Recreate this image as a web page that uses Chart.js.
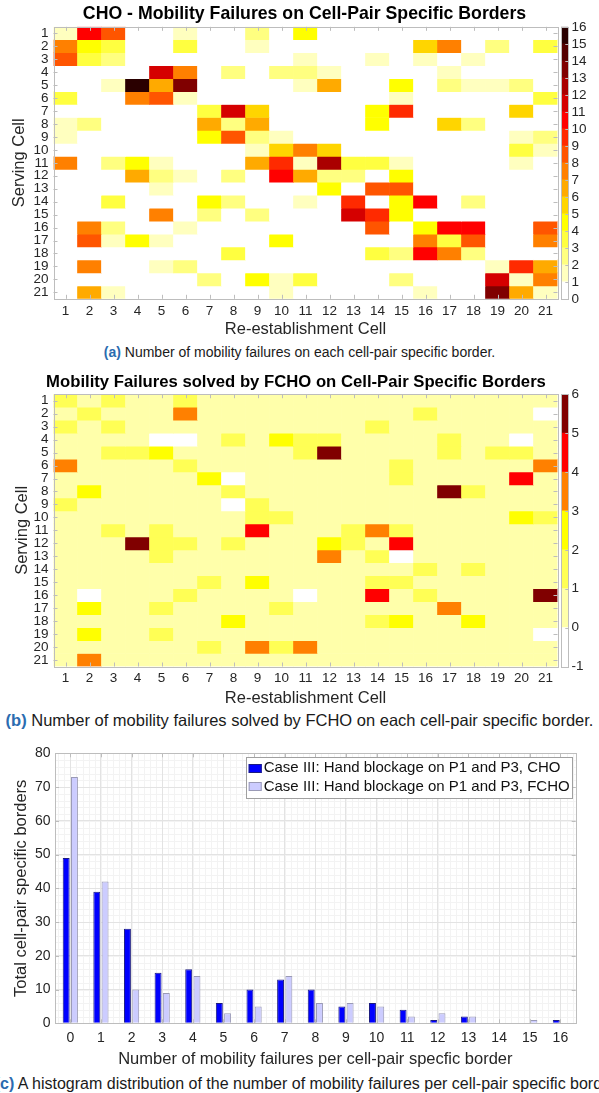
<!DOCTYPE html>
<html lang="en">
<head>
<meta charset="utf-8">
<title>Mobility failures on cell-pair specific borders</title>
<script src="https://cdn.jsdelivr.net/npm/chart.js"></script>
<style>
  html, body { margin: 0; padding: 0; background: #fff; }
  body { position: relative; width: 599px; height: 1093px; overflow: hidden;
         font-family: "Liberation Sans", Arial, sans-serif; }
  .panel { position: absolute; }
  .caption { position: absolute; white-space: nowrap; font-size: 14px; line-height: 16px; color: #1a1a1a; }
  .caption b { color: #2b6cb0; }
  .centered { left: 0; width: 599px; text-align: center; }
</style>
</head>
<body>

<div class="panel" style="left:10px; top:0; width:589px; height:340px;"><canvas id="choMap"></canvas></div>
<div class="panel" style="left:556px; top:0; width:43px; height:340px;"><canvas id="choScale"></canvas></div>
<div class="caption centered" style="top:344px;"><b>(a)</b> Number of mobility failures on each cell-pair specific border.</div>

<div class="panel" style="left:-7px; top:360px; width:606px; height:350px;"><canvas id="fchoMap"></canvas></div>
<div class="panel" style="left:556px; top:360px; width:43px; height:350px;"><canvas id="fchoScale"></canvas></div>
<div class="caption centered" style="top:711px; font-size:16.5px; line-height:18px;"><b>(b)</b> Number of mobility failures solved by FCHO on each cell-pair specific border.</div>

<div class="panel" style="left:0; top:735px; width:599px; height:335px;"><canvas id="histChart"></canvas></div>
<div class="caption" style="left:-5.3px; top:1075px; font-size:16px; line-height:18px;"><b>(c)</b> A histogram distribution of the number of mobility failures per cell-pair specific border.</div>

<script>
Chart.defaults.font.family = '"Liberation Sans", Arial, sans-serif';
Chart.defaults.color = '#262626';
Chart.defaults.animation = false;

// cells 1..21 (columns = re-establishment cell, rows = serving cell)
const cellLabels = ['1','2','3','4','5','6','7','8','9','10','11','12','13','14','15','16','17','18','19','20','21'];
const cellNumbers = [1,2,3,4,5,6,7,8,9,10,11,12,13,14,15,16,17,18,19,20,21];

// CHO failures per border
const choFailures = [
  [1,10,8,0,0,1,0,0,2,0,4,0,0,0,0,0,0,0,0,0,0],
  [7,4,3,0,0,3,0,0,1,0,0,0,0,0,0,5,7,0,2,0,3],
  [8,3,2,0,0,0,0,0,0,0,1,0,0,1,0,1,0,1,0,0,0],
  [0,0,0,0,11,7,0,2,0,2,2,1,0,0,0,0,1,0,0,0,0],
  [0,0,1,16,6,13,0,0,0,0,1,6,0,0,4,0,2,1,1,2,0],
  [3,0,0,7,8,1,0,0,0,0,0,0,0,0,1,0,0,0,0,0,3],
  [0,0,0,0,0,0,3,11,5,0,0,0,0,4,9,0,0,0,0,5,0],
  [1,2,0,0,0,0,6,2,6,0,0,0,0,4,0,0,5,2,0,0,0],
  [1,0,0,0,0,0,4,8,2,1,0,0,0,0,0,0,0,0,0,1,2],
  [0,0,0,0,0,0,0,0,1,5,7,5,0,0,0,0,0,0,0,3,1],
  [7,0,2,4,1,0,0,0,6,9,1,12,3,3,1,0,0,0,0,1,0],
  [0,0,0,6,2,1,0,2,0,10,6,2,2,0,4,0,0,0,0,0,0],
  [0,0,0,0,1,0,0,0,0,0,0,4,0,8,8,0,0,0,0,0,0],
  [0,0,3,0,0,0,4,2,0,0,1,0,9,0,4,10,0,2,0,0,0],
  [0,0,0,0,7,0,2,0,2,0,0,0,11,9,4,0,0,0,0,0,0],
  [0,7,2,0,0,1,0,0,0,0,0,0,0,8,0,4,10,10,0,0,8],
  [0,8,1,4,1,0,0,0,0,4,0,0,0,0,0,7,3,8,0,0,7],
  [0,0,0,0,0,0,0,3,0,0,0,0,0,3,2,10,7,2,0,0,0],
  [0,7,0,0,1,2,0,0,0,0,0,0,0,0,0,0,0,0,1,9,6],
  [0,0,0,0,0,0,2,0,4,1,3,0,0,0,2,0,0,0,11,1,7],
  [0,6,1,0,0,0,0,0,0,1,0,0,0,0,0,1,0,0,13,6,1]
];

// failures solved by FCHO (CHO minus FCHO) per border
const fchoSolved = [
  [1,0,1,0,0,1,0,0,0,0,0,0,0,0,0,0,0,0,0,0,0],
  [0,1,0,0,0,3,0,0,0,0,0,0,0,0,0,1,0,0,0,0,-1],
  [1,0,1,0,0,0,0,0,0,0,0,0,0,1,0,0,0,0,0,0,0],
  [0,0,0,0,-1,-1,0,1,0,2,1,1,0,0,0,0,1,0,0,-1,0],
  [0,0,1,1,2,0,0,0,0,0,1,5,0,0,0,0,1,0,1,1,0],
  [3,0,0,0,0,1,0,0,0,0,0,0,0,0,1,0,0,0,0,0,3],
  [0,0,0,0,0,0,2,-1,0,0,0,0,0,0,1,0,0,0,0,4,0],
  [0,2,0,0,0,0,0,1,0,0,0,0,0,0,0,0,5,1,0,0,0],
  [1,0,0,0,0,0,0,-1,1,0,0,0,0,0,0,0,0,0,0,0,0],
  [0,0,0,0,0,0,0,0,1,1,0,0,0,0,0,0,0,0,0,2,1],
  [0,0,1,0,1,0,0,0,4,0,0,0,1,3,1,0,0,0,0,0,0],
  [0,0,0,5,1,1,0,1,0,0,0,2,1,0,4,0,0,0,0,0,0],
  [0,0,0,0,1,0,0,0,0,0,0,3,0,1,-1,0,0,0,0,0,0],
  [0,0,0,0,0,0,0,0,0,0,0,0,0,0,0,1,0,1,0,0,0],
  [0,0,0,0,0,0,1,0,2,0,0,0,0,1,1,0,0,0,0,0,0],
  [0,-1,0,0,0,1,0,0,0,0,-1,0,0,4,0,1,0,0,0,0,5],
  [0,2,0,0,1,0,0,0,0,1,0,0,0,0,0,0,3,0,0,0,0],
  [0,0,0,0,0,0,0,2,0,0,0,0,0,1,2,0,0,2,0,0,0],
  [0,2,0,0,1,0,0,0,0,0,0,0,0,0,0,0,0,0,0,0,-1],
  [0,0,0,0,0,0,1,0,3,1,3,0,0,0,0,0,0,0,0,0,0],
  [0,3,0,0,0,0,0,0,0,0,0,0,0,0,0,0,0,0,0,0,0]
];

// histogram of failures per border
const failureCounts = ['0','1','2','3','4','5','6','7','8','9','10','11','12','13','14','15','16'];
const choBorders = [49,39,28,15,16,6,10,13,10,5,6,4,1,2,0,0,1];
const fchoBorders = [73,42,10,9,14,3,5,14,6,6,5,2,3,2,0,1,0];

// flipped "hot" colormaps, one colour per unit step
const choLevelColors = ['#ffffff','#ffffbf','#ffff80','#ffff40','#ffff00','#ffd500','#ffaa00','#ff8000',
                        '#ff5500','#ff2a00','#ff0000','#d50000','#aa0000','#800000','#550000','#2a0000'];
const solvedLevelColors = ['#ffffff','#ffffaa','#ffff55','#ffff00','#ff8000','#ff0000','#800000'];

// box around the plot area with inward tick marks
const axesFrame = {
  id: 'axesFrame',
  afterDatasetsDraw(chart, args, opts) {
    const {ctx, chartArea: {left, right, top, bottom}} = chart;
    const crisp = v => Math.round(v) + 0.5;
    const len = opts.tickLength;
    ctx.save();
    ctx.strokeStyle = opts.color;
    ctx.lineWidth = 1;
    ctx.beginPath();
    if (opts.xTicks) {
      const xs = chart.scales.x;
      xs.ticks.forEach((t, i) => {
        const px = crisp(xs.getPixelForTick(i));
        ctx.moveTo(px, bottom); ctx.lineTo(px, bottom - len);
        ctx.moveTo(px, top); ctx.lineTo(px, top + len);
      });
    }
    if (opts.yTicks) {
      const ys = chart.scales.y;
      ys.ticks.forEach((t, i) => {
        const py = crisp(ys.getPixelForTick(i));
        if (opts.yTicks !== 'right') { ctx.moveTo(left, py); ctx.lineTo(left + len, py); }
        ctx.moveTo(right, py); ctx.lineTo(right - len, py);
      });
    }
    ctx.stroke();
    ctx.strokeRect(crisp(left), crisp(top), crisp(right) - crisp(left), crisp(bottom) - crisp(top));
    ctx.restore();
  }
};

// fine grid under the major one
const minorGrid = {
  id: 'minorGrid',
  beforeDraw(chart, args, opts) {
    const {ctx, chartArea: {left, right, top, bottom}, scales: {x, y}} = chart;
    ctx.save();
    ctx.strokeStyle = opts.color;
    ctx.lineWidth = 1;
    ctx.beginPath();
    for (let v = y.min; v <= y.max; v += opts.yStep) {
      const py = Math.round(y.getPixelForValue(v)) + 0.5;
      ctx.moveTo(left, py); ctx.lineTo(right, py);
    }
    const first = Math.ceil((x.min - 0.5) * opts.xDiv);
    const last = Math.floor((x.max + 0.5) * opts.xDiv);
    for (let k = first; k <= last; k++) {
      const px = Math.round(x.getPixelForValue(k / opts.xDiv)) + 0.5;
      ctx.moveTo(px, top); ctx.lineTo(px, bottom);
    }
    ctx.stroke();
    ctx.restore();
  }
};

// legend in a box at the top right corner of the plot
const boxLegend = {
  id: 'boxLegend',
  afterDraw(chart, args, opts) {
    const {ctx, chartArea} = chart;
    const sets = chart.data.datasets;
    ctx.save();
    ctx.font = opts.font;
    const textWidth = Math.max(...sets.map(d => ctx.measureText(d.label).width));
    const w = opts.pad + opts.swatchWidth + opts.gap + textWidth + opts.pad;
    const h = opts.rowHeight * sets.length + 2 * opts.padY;
    const x0 = Math.round(chartArea.right - opts.insetX - w);
    const y0 = Math.round(chartArea.top + opts.insetY);
    ctx.fillStyle = '#fff';
    ctx.fillRect(x0, y0, w, h);
    ctx.strokeStyle = opts.borderColor;
    ctx.lineWidth = 1;
    ctx.strokeRect(x0 + 0.5, y0 + 0.5, Math.round(w), Math.round(h));
    sets.forEach((d, i) => {
      const cy = y0 + opts.padY + opts.rowHeight * (i + 0.5);
      const sx = x0 + opts.pad;
      const sy = Math.round(cy - opts.swatchHeight / 2);
      ctx.fillStyle = d.backgroundColor;
      ctx.fillRect(sx, sy, opts.swatchWidth, opts.swatchHeight);
      ctx.strokeStyle = d.borderColor;
      ctx.strokeRect(sx + 0.5, sy + 0.5, opts.swatchWidth - 1, opts.swatchHeight - 1);
      ctx.fillStyle = opts.color;
      ctx.textBaseline = 'middle';
      ctx.fillText(d.label, sx + opts.swatchWidth + opts.gap, cy);
    });
    ctx.restore();
  }
};

// one floating-bar dataset per serving cell, one bar per re-establishment cell
function cellDatasets(matrix, colors, low) {
  return matrix.map((row, r) => ({
    label: 'Serving cell ' + (r + 1),
    data: row.map(() => [r + 0.5, r + 1.5]),
    backgroundColor: row.map(v => colors[Math.min(Math.max(v - low, 0), colors.length - 1)])
  }));
}

function drawHeatmap(selector, title, matrix, colors, low, lay) {
  return new Chart(document.querySelector(selector), {
    type: 'bar',
    data: { labels: cellLabels, datasets: cellDatasets(matrix, colors, low) },
    options: {
      responsive: true,
      maintainAspectRatio: false,
      layout: { padding: 0 },
      datasets: { bar: { grouped: false, barPercentage: 1, categoryPercentage: 1, borderWidth: 0 } },
      plugins: {
        legend: { display: false },
        tooltip: { enabled: false },
        title: {
          display: true, text: title, color: '#000',
          font: { size: lay.titleSize, weight: 'bold' },
          padding: lay.titlePadding
        },
        axesFrame: { color: '#bdbdbd', tickLength: 4, xTicks: true, yTicks: 'both' }
      },
      scales: {
        x: {
          grid: { display: false, drawTicks: false },
          border: { display: false },
          ticks: { font: { size: 13.5 }, padding: lay.xTickPad, maxRotation: 0, autoSkip: false },
          title: { display: true, text: 'Re-establishment Cell', color: '#262626', font: { size: 16.5 }, padding: { top: 0, bottom: lay.xTitlePad } },
          afterFit: s => { s.height = lay.xHeight; }
        },
        y: {
          type: 'linear',
          reverse: true,
          min: 0.5,
          max: 21.5,
          grid: { display: false, drawTicks: false },
          border: { display: false },
          afterBuildTicks: s => { s.ticks = cellNumbers.map(v => ({ value: v })); },
          ticks: { font: { size: 13.5 }, padding: 5, autoSkip: false },
          title: { display: true, text: 'Serving Cell', color: '#262626', font: { size: 16.5 }, padding: { top: lay.yTitlePad, bottom: 0 } },
          afterFit: s => { s.width = lay.yWidth; }
        },
        gap: {
          type: 'linear',
          axis: 'y',
          position: 'right',
          grid: { display: false, drawTicks: false },
          border: { display: false },
          ticks: { display: false },
          afterFit: s => { s.width = 41.5; }
        }
      }
    },
    plugins: [axesFrame]
  });
}

function drawColorbar(selector, colors, low, pad) {
  return new Chart(document.querySelector(selector), {
    type: 'bar',
    data: {
      labels: [''],
      datasets: colors.map((c, k) => ({ data: [[low + k, low + k + 1]], backgroundColor: c }))
    },
    options: {
      responsive: true,
      maintainAspectRatio: false,
      layout: { padding: pad },
      datasets: { bar: { grouped: false, barPercentage: 1, categoryPercentage: 1, borderWidth: 0 } },
      plugins: {
        legend: { display: false },
        tooltip: { enabled: false },
        axesFrame: { color: '#bdbdbd', tickLength: 3, xTicks: false, yTicks: 'right' }
      },
      scales: {
        x: { display: false },
        y: {
          position: 'right',
          min: low,
          max: low + colors.length,
          grid: { display: false, drawTicks: false },
          border: { display: false },
          ticks: { stepSize: 1, font: { size: 13.5 }, padding: 3.2, autoSkip: false },
          afterFit: s => { s.width = 30.7; }
        }
      }
    },
    plugins: [axesFrame]
  });
}

drawHeatmap('#choMap', 'CHO - Mobility Failures on Cell-Pair Specific Borders', choFailures, choLevelColors, 0, {
  titleSize: 17.7, titlePadding: { top: 3.9, bottom: 1.7 }, xTickPad: 4.8, xTitlePad: 0.5, xHeight: 41.2, yTitlePad: 0, yWidth: 43.5
});
drawColorbar('#choScale', choLevelColors, 0, { left: 5, right: 0, top: 26.8, bottom: 41.2 });

drawHeatmap('#fchoMap', 'Mobility Failures solved by FCHO on Cell-Pair Specific Borders', fchoSolved, solvedLevelColors, -1, {
  titleSize: 16.7, titlePadding: { top: 12.5, bottom: 1.7 }, xTickPad: 3.4, xTitlePad: 2, xHeight: 43.5, yTitlePad: 20, yWidth: 60.5
});
drawColorbar('#fchoScale', solvedLevelColors, -1, { left: 5, right: 0, top: 34.2, bottom: 43.5 });

// histogram of failures per border
new Chart(document.querySelector('#histChart'), {
  type: 'bar',
  data: {
    labels: failureCounts,
    datasets: [
      { label: 'Case III: Hand blockage on P1 and P3, CHO', data: choBorders,
        backgroundColor: '#0000ff', borderColor: '#1c1c80', borderWidth: 1 },
      { label: 'Case III: Hand blockage on P1 and P3, FCHO', data: fchoBorders,
        backgroundColor: '#ccccff', borderColor: '#9a9ab6', borderWidth: 1 }
    ]
  },
  options: {
    responsive: true,
    maintainAspectRatio: false,
    layout: { padding: { top: 18.3, right: 23.3, left: 0, bottom: 0 } },
    datasets: { bar: { categoryPercentage: 0.54, barPercentage: 0.84 } },
    plugins: {
      legend: { display: false },
      tooltip: { enabled: false },
      minorGrid: { color: '#f3f3f3', yStep: 2, xDiv: 5 },
      axesFrame: { color: '#bdbdbd', tickLength: 4, xTicks: true, yTicks: 'both' },
      boxLegend: {
        font: '15px "Liberation Sans", Arial, sans-serif', color: '#111', borderColor: '#a0a0a0',
        pad: 2.7, gap: 2, swatchWidth: 13, swatchHeight: 9, rowHeight: 18.4, padY: 2.1, insetX: 3, insetY: 3.7
      }
    },
    scales: {
      x: {
        grid: { offset: false, color: '#e3e3e3', drawTicks: false },
        border: { display: false },
        ticks: { font: { size: 14 }, padding: 6.3, maxRotation: 0, autoSkip: false },
        title: { display: true, text: 'Number of mobility failures per cell-pair specfic border', color: '#262626', font: { size: 16.5 }, padding: { top: 0, bottom: 1.1 } },
        afterFit: s => { s.height = 46.7; }
      },
      y: {
        min: 0,
        max: 80,
        grid: { color: '#e3e3e3', drawTicks: false },
        border: { display: false },
        ticks: { stepSize: 10, font: { size: 14 }, padding: 4.5 },
        title: { display: true, text: 'Total cell-pair specific borders', color: '#262626', font: { size: 16.5 }, padding: { top: 11.2, bottom: 0 } },
        afterFit: s => { s.width = 55; }
      }
    }
  },
  plugins: [minorGrid, axesFrame, boxLegend]
});
</script>
</body>
</html>
